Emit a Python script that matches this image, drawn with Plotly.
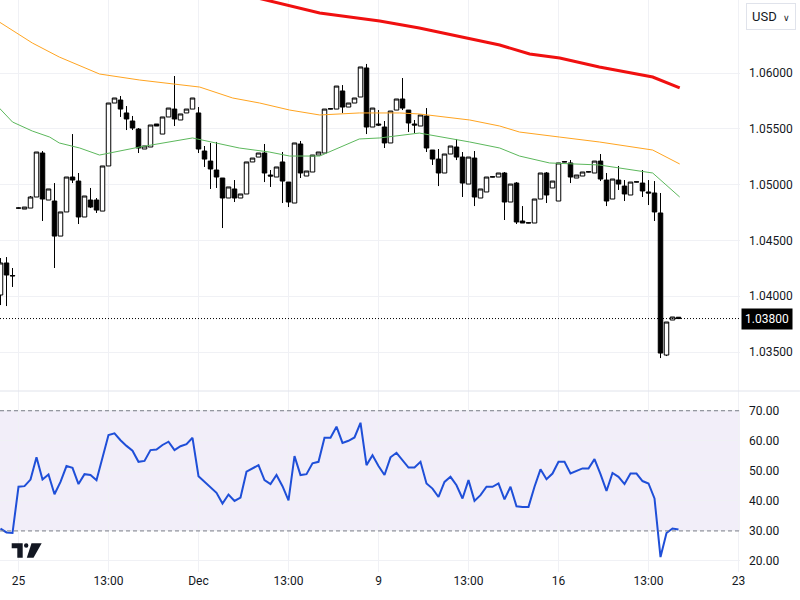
import plotly.graph_objects as go

# ---------------- data ----------------
bar_index = list(range(-3, 111))

open_ = [1.04011, 1.04298, 1.04181,
         1.04790, 1.04781, 1.04790, 1.04889, 1.05283, 1.04862, 1.04853, 1.04539, 1.04755, 1.05068,
         1.05032, 1.04710, 1.04862, 1.04862, 1.04763, 1.05167, 1.05731, 1.05758, 1.05642, 1.05570,
         1.05498, 1.05319, 1.05337, 1.05543, 1.05453, 1.05606, 1.05677, 1.05579, 1.05642, 1.05677,
         1.05642, 1.05301, 1.05211, 1.05131, 1.05059, 1.04880, 1.04961, 1.04880, 1.04916, 1.05203,
         1.05247, 1.05283, 1.05086, 1.05068, 1.05203, 1.05023, 1.04835, 1.05364, 1.05077, 1.05113,
         1.05265, 1.05283, 1.05677, 1.05677, 1.05839, 1.05695, 1.05731, 1.05785, 1.06045, 1.05516,
         1.05543, 1.05516, 1.05373, 1.05668, 1.05767, 1.05668, 1.05543, 1.05525, 1.05615, 1.05310,
         1.05229, 1.05104, 1.05274, 1.05337, 1.05247, 1.05005, 1.05238, 1.04880, 1.04934, 1.05068,
         1.05068, 1.05104, 1.04844, 1.05014, 1.04674, 1.04656, 1.04656, 1.04871, 1.05104, 1.04970,
         1.04853, 1.05203, 1.05194, 1.05059, 1.05077, 1.05113, 1.05104, 1.05211, 1.05041, 1.04871,
         1.05041, 1.04987, 1.04907, 1.05023, 1.05014, 1.04934, 1.04925, 1.04746, 1.03473, 1.03787,
         1.03812]
high = [1.04342, 1.04351, 1.04253,
        1.04795, 1.04799, 1.04898, 1.05292, 1.05301, 1.04961, 1.05014, 1.04755, 1.05068, 1.05453,
        1.05104, 1.04898, 1.04970, 1.04880, 1.05167, 1.05731, 1.05776, 1.05794, 1.05704, 1.05615,
        1.05507, 1.05346, 1.05534, 1.05543, 1.05606, 1.05686, 1.05973, 1.05633, 1.05677, 1.05776,
        1.05695, 1.05346, 1.05373, 1.05382, 1.05059, 1.04979, 1.05041, 1.04916, 1.05203, 1.05238,
        1.05283, 1.05364, 1.05131, 1.05158, 1.05292, 1.05023, 1.05373, 1.05391, 1.05122, 1.05265,
        1.05292, 1.05677, 1.05682, 1.05883, 1.05892, 1.05731, 1.05776, 1.06054, 1.06081, 1.05686,
        1.05668, 1.05570, 1.05659, 1.05767, 1.05955, 1.05668, 1.05579, 1.05624, 1.05686, 1.05310,
        1.05319, 1.05274, 1.05346, 1.05409, 1.05292, 1.05247, 1.05301, 1.04961, 1.05068, 1.05072,
        1.05104, 1.05113, 1.05005, 1.05023, 1.04808, 1.04660, 1.04871, 1.05104, 1.05113, 1.05032,
        1.05194, 1.05207, 1.05220, 1.05086, 1.05113, 1.05117, 1.05211, 1.05274, 1.05104, 1.05050,
        1.05167, 1.05041, 1.05023, 1.05027, 1.05131, 1.05041, 1.05032, 1.04925, 1.03769, 1.03814,
        1.03812]
low = [1.03921, 1.03912, 1.04083,
       1.04786, 1.04781, 1.04790, 1.04889, 1.04674, 1.04862, 1.04253, 1.04539, 1.04755, 1.05014,
       1.04647, 1.04710, 1.04790, 1.04746, 1.04763, 1.05167, 1.05731, 1.05606, 1.05489, 1.05489,
       1.05283, 1.05319, 1.05337, 1.05525, 1.05453, 1.05606, 1.05525, 1.05579, 1.05642, 1.05677,
       1.05283, 1.05158, 1.04961, 1.04970, 1.04611, 1.04880, 1.04844, 1.04880, 1.04916, 1.05203,
       1.05247, 1.05023, 1.04979, 1.05068, 1.04835, 1.04799, 1.04835, 1.05059, 1.05077, 1.05113,
       1.05265, 1.05283, 1.05675, 1.05677, 1.05642, 1.05695, 1.05731, 1.05785, 1.05453, 1.05516,
       1.05525, 1.05328, 1.05373, 1.05668, 1.05668, 1.05471, 1.05462, 1.05525, 1.05292, 1.05176,
       1.04987, 1.05104, 1.05274, 1.05220, 1.04889, 1.05005, 1.04808, 1.04880, 1.04934, 1.05066,
       1.05068, 1.04683, 1.04844, 1.04647, 1.04656, 1.04654, 1.04656, 1.04871, 1.04835, 1.04970,
       1.04853, 1.05201, 1.05014, 1.05059, 1.05077, 1.05111, 1.05104, 1.05032, 1.04808, 1.04871,
       1.04952, 1.04853, 1.04907, 1.05021, 1.04889, 1.04817, 1.04674, 1.03446, 1.03464, 1.03787,
       1.03800]
close = [1.04298, 1.04190, 1.04185,
         1.04790, 1.04799, 1.04889, 1.05292, 1.04871, 1.04961, 1.04539, 1.04755, 1.05068, 1.05041,
         1.04710, 1.04898, 1.04799, 1.04772, 1.05167, 1.05731, 1.05776, 1.05677, 1.05588, 1.05507,
         1.05328, 1.05346, 1.05534, 1.05525, 1.05606, 1.05686, 1.05588, 1.05633, 1.05677, 1.05776,
         1.05319, 1.05229, 1.05140, 1.05068, 1.04880, 1.04979, 1.04880, 1.04916, 1.05203, 1.05238,
         1.05283, 1.05104, 1.05077, 1.05158, 1.05032, 1.04844, 1.05373, 1.05104, 1.05122, 1.05265,
         1.05292, 1.05677, 1.05680, 1.05883, 1.05695, 1.05731, 1.05776, 1.06054, 1.05516, 1.05686,
         1.05534, 1.05373, 1.05659, 1.05767, 1.05686, 1.05552, 1.05534, 1.05624, 1.05328, 1.05229,
         1.05104, 1.05274, 1.05346, 1.05247, 1.05014, 1.05247, 1.04889, 1.04961, 1.05068, 1.05070,
         1.05104, 1.04844, 1.05005, 1.04665, 1.04656, 1.04658, 1.04871, 1.05104, 1.04907, 1.05032,
         1.05194, 1.05205, 1.05068, 1.05086, 1.05113, 1.05115, 1.05211, 1.05050, 1.04853, 1.05050,
         1.05005, 1.04916, 1.05023, 1.05025, 1.04943, 1.04925, 1.04755, 1.03491, 1.03769, 1.03814,
         1.03800]

rsi = [30.8, 29.5, 29.3,
       44.7, 44.9, 47.1, 54.5, 47.1, 48.8, 42.2, 46.3, 51.6, 51.0,
       45.6, 48.9, 48.6, 46.9, 54.0, 61.9, 62.5, 60.2, 58.3, 56.7,
       53.0, 53.3, 56.9, 57.1, 58.6, 59.7, 56.9, 58.2, 58.9, 61.0,
       48.2, 46.3, 44.4, 42.7, 39.1, 42.1, 40.0, 41.1, 49.7, 50.8,
       51.9, 46.9, 45.6, 48.6, 44.9, 40.2, 54.9, 48.6, 48.9, 52.5,
       53.0, 61.0, 61.0, 64.7, 59.3, 60.0, 61.1, 66.0, 51.9, 55.2,
       51.6, 48.6, 54.5, 56.0, 53.5, 51.1, 51.1, 53.0, 45.8, 44.1,
       41.3, 46.3, 48.0, 45.2, 40.8, 46.9, 40.0, 41.9, 44.7, 44.7,
       45.8, 40.5, 44.7, 38.2, 38.0, 38.0, 44.7, 50.5, 47.2, 49.1,
       53.0, 53.0, 49.1, 50.0, 50.8, 50.8, 53.9, 48.9, 43.3, 49.3,
       48.0, 45.6, 49.1, 49.1, 46.6, 45.8, 40.8, 21.3, 29.3, 30.8,
       30.5]

ma_red_x = [40.0, 45.2, 50.2, 55.2, 60.2, 66.8, 75.2, 80.2, 85.2, 90.2, 96.8, 105.7, 110.2]
ma_red_y = [1.06670, 1.06600, 1.06538, 1.06502, 1.06466, 1.06403, 1.06305, 1.06251, 1.06170,
            1.06134, 1.06054, 1.05964, 1.05866]

ma_orange_x = [-3.2, 0.2, 2.3, 6.8, 13.5, 20.2, 26.8, 30.2, 35.7, 40.2, 45.2, 50.2, 56.8, 63.5,
               66.8, 75.2, 80.2, 83.5, 90.2, 96.8, 105.7, 110.2]
ma_orange_y = [1.06457, 1.06340, 1.06269, 1.06143, 1.05991, 1.05937, 1.05892, 1.05874, 1.05776,
               1.05731, 1.05668, 1.05624, 1.05642, 1.05642, 1.05633, 1.05579, 1.05525, 1.05471,
               1.05426, 1.05382, 1.05310, 1.05185]

ma_green_x = [-3.2, -1.0, 2.3, 5.2, 6.8, 10.2, 13.5, 15.2, 20.2, 29.0, 33.0, 36.8, 41.8, 45.2,
              50.2, 56.8, 60.2, 66.8, 75.2, 80.2, 83.5, 88.5, 96.8, 105.7, 110.2]
ma_green_y = [1.05686, 1.05561, 1.05480, 1.05426, 1.05373, 1.05328, 1.05265, 1.05283, 1.05337,
              1.05418, 1.05373, 1.05328, 1.05292, 1.05256, 1.05256, 1.05409, 1.05418, 1.05462,
              1.05382, 1.05328, 1.05256, 1.05194, 1.05176, 1.05104, 1.04889]

tick_pos = [0, 15, 30, 45, 60, 75, 90, 105, 120]
tick_text = ["25", "13:00", "Dec", "13:00", "9", "13:00", "16", "13:00", "23"]
price_ticks = [1.035, 1.040, 1.045, 1.050, 1.055, 1.060]
rsi_ticks = [20, 30, 40, 50, 60, 70]
rsi_upper, rsi_lower = 70, 30
last_price = close[-1]

# ---------------- figure ----------------
TXT = "#131722"
GRID = "#f0f1f5"
FONT = "Roboto"
split = (572 - 391) / 572

fig = go.Figure()

fig.add_trace(go.Scatter(x=ma_red_x, y=ma_red_y, mode="lines",
                         line=dict(color="#f01010", width=3), yaxis="y", hoverinfo="skip"))
fig.add_trace(go.Scatter(x=ma_orange_x, y=ma_orange_y, mode="lines",
                         line=dict(color="#ffa420", width=1), yaxis="y", hoverinfo="skip"))
fig.add_trace(go.Scatter(x=ma_green_x, y=ma_green_y, mode="lines",
                         line=dict(color="#5cb85c", width=1), yaxis="y", hoverinfo="skip"))

fig.add_trace(go.Candlestick(
    x=bar_index, open=open_, high=high, low=low, close=close,
    increasing=dict(line=dict(color="#000000", width=1), fillcolor="#ffffff"),
    decreasing=dict(line=dict(color="#000000", width=1), fillcolor="#000000"),
    whiskerwidth=0, yaxis="y", hoverinfo="skip"))

fig.add_trace(go.Scatter(x=bar_index, y=rsi, mode="lines",
                         line=dict(color="#1f4fd8", width=2), yaxis="y2", hoverinfo="skip"))

shapes = [
    dict(type="rect", xref="paper", x0=0, x1=1, yref="y2", y0=rsi_lower, y1=rsi_upper,
         fillcolor="rgba(126,87,194,0.1)", line=dict(width=0), layer="below"),
    dict(type="line", xref="paper", x0=0, x1=1, yref="y2", y0=rsi_upper, y1=rsi_upper,
         line=dict(color="#787b86", width=1, dash="4px,3px")),
    dict(type="line", xref="paper", x0=0, x1=1, yref="y2", y0=rsi_lower, y1=rsi_lower,
         line=dict(color="#787b86", width=1, dash="4px,3px")),
    dict(type="line", xref="paper", x0=0, x1=1.081, yref="paper", y0=split, y1=split,
         line=dict(color="#e0e3eb", width=1)),
    dict(type="line", xref="paper", x0=0, x1=1, yref="y", y0=last_price, y1=last_price,
         line=dict(color="#000000", width=1, dash="1px,2px")),
]

def px(x):
    return x / 740.0

def py(y):
    return (572.0 - y) / 572.0

logo_T = "M {} {} L {} {} L {} {} L {} {} L {} {} L {} {} Z".format(
    px(11.7), py(543.3), px(22.7), py(543.3), px(22.7), py(557.7),
    px(17.3), py(557.7), px(17.3), py(548.3), px(11.7), py(548.3))
logo_S = "M {} {} L {} {} L {} {} L {} {} Z".format(
    px(31.5), py(543.3), px(41.7), py(543.3), px(33.5), py(557.7), px(26.8), py(557.7))
shapes.append(dict(type="path", xref="paper", yref="paper", path=logo_T,
                   fillcolor="#131722", line=dict(width=0)))
shapes.append(dict(type="path", xref="paper", yref="paper", path=logo_S,
                   fillcolor="#131722", line=dict(width=0)))
shapes.append(dict(type="circle", xref="paper", yref="paper",
                   x0=px(24.0), x1=px(28.4), y0=py(547.7), y1=py(543.3),
                   fillcolor="#131722", line=dict(width=0)))

annotations = [
    dict(xref="paper", yref="y", x=1.0, y=last_price, xanchor="left", yanchor="middle",
         text="{:.5f}".format(last_price), showarrow=False,
         font=dict(family=FONT, size=12, color="#ffffff"),
         bgcolor="#000000", borderpad=3, xshift=1),
    dict(xref="paper", yref="paper", x=px(771), y=py(17), xanchor="center", yanchor="middle",
         text="USD  <span style='font-size:9px'>∨</span>", showarrow=False,
         font=dict(family=FONT, size=13, color=TXT),
         bgcolor="#ffffff", bordercolor="#e0e3eb", borderwidth=1, borderpad=5),
]

fig.update_layout(
    width=800, height=600,
    margin=dict(l=0, r=60, t=0, b=28, autoexpand=False),
    paper_bgcolor="#ffffff", plot_bgcolor="#ffffff",
    showlegend=False, hovermode=False,
    boxgap=0.25, boxgroupgap=0,
    font=dict(family=FONT, size=12, color=TXT),
    shapes=shapes, annotations=annotations,
    xaxis=dict(range=[-3.083, 120.25], tickmode="array", tickvals=tick_pos, ticktext=tick_text,
               showgrid=True, gridcolor=GRID, gridwidth=1, zeroline=False, showline=False,
               ticks="", tickfont=dict(family=FONT, size=12, color=TXT),
               rangeslider=dict(visible=False), anchor="y2", automargin=False),
    yaxis=dict(domain=[split, 1], range=[1.03151, 1.06654], side="right",
               tickmode="array", tickvals=price_ticks, tickformat=".5f",
               showgrid=True, gridcolor=GRID, zeroline=False, showline=False, ticks="",
               ticklabelstandoff=8, automargin=False,
               tickfont=dict(family=FONT, size=12, color=TXT)),
    yaxis2=dict(domain=[0, split], range=[16.33, 76.57], side="right",
                tickmode="array", tickvals=rsi_ticks, tickformat=".2f",
                showgrid=True, gridcolor=GRID, zeroline=False, showline=False, ticks="",
                ticklabelstandoff=8, automargin=False,
                tickfont=dict(family=FONT, size=12, color=TXT)),
)

fig.write_html("out.html", config={"displayModeBar": False},
               post_script="document.body.style.margin='0';document.body.style.padding='0';")
